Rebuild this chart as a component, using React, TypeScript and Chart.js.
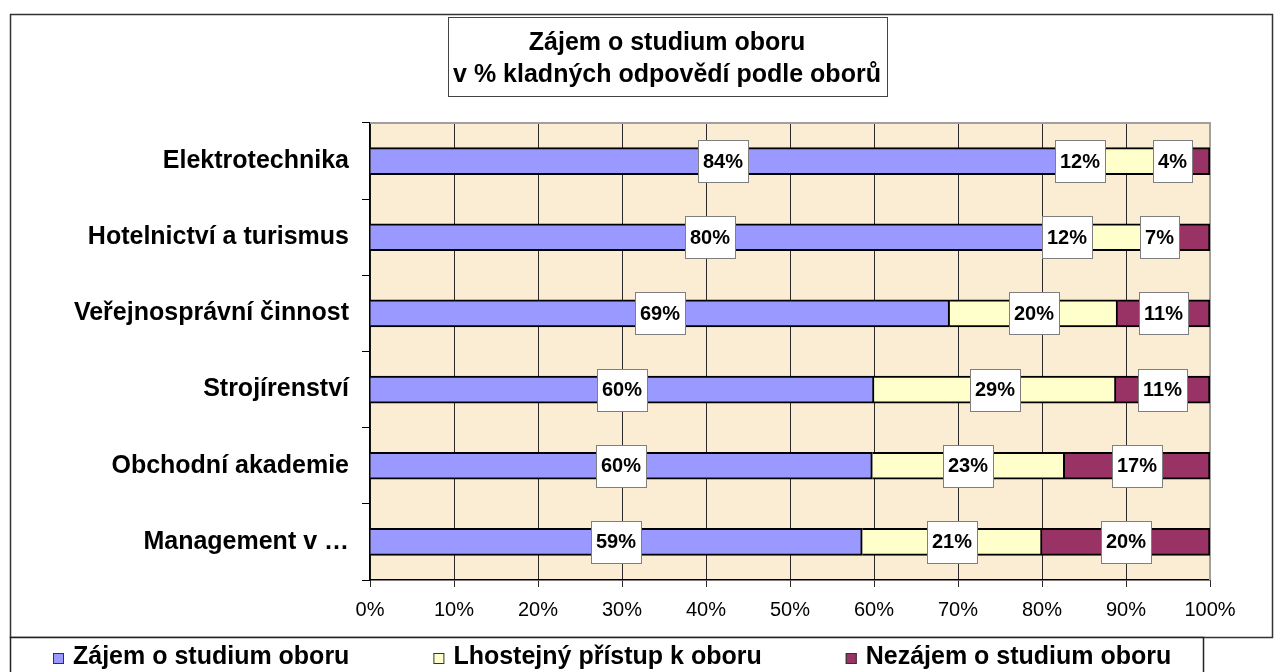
import { useEffect, useRef } from 'react';
import { Chart, registerables } from 'chart.js';

Chart.register(...registerables);

const FONT = '"Liberation Sans", Arial, Helvetica, sans-serif';

// ---- data ----
const categories = [
  'Elektrotechnika',
  'Hotelnictví a turismus',
  'Veřejnosprávní činnost',
  'Strojírenství',
  'Obchodní akademie',
  'Management v …',
];
const seriesNames = ['Zájem o studium oboru', 'Lhostejný přístup k oboru', 'Nezájem o studium oboru'];
const seriesColors = ['#9999FF', '#FFFFCC', '#993366'];
// segment shares (bar lengths, %)
const zajem = [83.9, 80.8, 69.0, 60.0, 59.8, 58.6];
const lhostejny = [14.0, 15.5, 20.0, 28.8, 22.9, 21.4];
const nezajem = [2.1, 3.7, 11.0, 11.2, 17.3, 20.0];
// printed data labels (%)
const zajemLabels = [84, 80, 69, 60, 60, 59];
const lhostejnyLabels = [12, 12, 20, 29, 23, 21];
const nezajemLabels = [4, 7, 11, 11, 17, 20];
const xMin = 0;
const xMax = 100;
const xStep = 10;
const titleLines = ['Zájem o studium oboru', 'v % kladných odpovědí podle oborů'];

const labelSets = [zajemLabels, lhostejnyLabels, nezajemLabels];

const framePlugin = {
  id: 'frame',
  beforeDraw(chart: any) {
    const { ctx, chartArea: a } = chart;
    ctx.save();
    ctx.fillStyle = '#ffffff';
    ctx.fillRect(0, 0, chart.width, chart.height);
    // plot background
    ctx.fillStyle = '#FBECD4';
    ctx.fillRect(a.left, a.top, a.right - a.left, a.bottom - a.top);
    // outer frame
    ctx.strokeStyle = '#333333';
    ctx.lineWidth = 1.5;
    ctx.strokeRect(10.5, 14.5, 1262, 623);
    // title box
    ctx.fillStyle = '#ffffff';
    ctx.fillRect(448, 17, 439, 79);
    ctx.strokeStyle = '#444444';
    ctx.lineWidth = 1;
    ctx.strokeRect(448.5, 17.5, 439, 79);
    ctx.fillStyle = '#000000';
    ctx.font = `bold 25px ${FONT}`;
    ctx.textAlign = 'center';
    ctx.textBaseline = 'middle';
    ctx.fillText(titleLines[0], 667, 43);
    ctx.fillText(titleLines[1], 667, 75);
    // legend box
    ctx.fillStyle = '#ffffff';
    ctx.fillRect(10, 637, 1193, 40);
    ctx.strokeStyle = '#222222';
    ctx.lineWidth = 1.5;
    ctx.strokeRect(10.5, 637.5, 1193, 40);
    ctx.font = `bold 25px ${FONT}`;
    ctx.textAlign = 'left';
    let x = 53;
    chart.data.datasets.forEach((ds: any) => {
      ctx.fillStyle = ds.backgroundColor;
      ctx.fillRect(x, 653, 11, 11);
      ctx.strokeStyle = '#333333';
      ctx.lineWidth = 1;
      ctx.strokeRect(x + 0.5, 653.5, 10, 10);
      ctx.fillStyle = '#000000';
      ctx.fillText(ds.label, x + 20, 657);
      x += 20 + ctx.measureText(ds.label).width + 84;
    });
    ctx.restore();
  },
  beforeDatasetsDraw(chart: any) {
    const { ctx, chartArea: a } = chart;
    ctx.save();
    ctx.strokeStyle = '#A0A0A0';
    ctx.lineWidth = 2;
    ctx.beginPath();
    ctx.moveTo(a.left, a.top);
    ctx.lineTo(a.right, a.top);
    ctx.lineTo(a.right, a.bottom);
    ctx.stroke();
    ctx.restore();
  },
};

const boxLabelPlugin = {
  id: 'boxLabels',
  afterDatasetsDraw(chart: any) {
    const ctx = chart.ctx;
    ctx.save();
    ctx.font = `bold 20px ${FONT}`;
    const n = chart.data.labels.length;
    const nd = chart.data.datasets.length;
    for (let i = 0; i < n; i++) {
      const boxes: any[] = [];
      for (let d = 0; d < nd; d++) {
        const el = chart.getDatasetMeta(d).data[i];
        const p = el.getProps(['x', 'base', 'y'], true);
        const text = labelSets[d][i] + '%';
        const w = ctx.measureText(text).width + 10;
        const left = Math.min(p.x, p.base);
        const right = Math.max(p.x, p.base);
        let cx = (left + right) / 2;
        if (w > right - left) cx = left - w / 2;
        boxes.push({ cx, w, y: p.y, text });
      }
      for (let d = nd - 2; d >= 0; d--) {
        const next = boxes[d + 1];
        const maxRight = next.cx - next.w / 2 - 48;
        if (boxes[d].cx + boxes[d].w / 2 > maxRight) boxes[d].cx = maxRight - boxes[d].w / 2;
      }
      boxes.forEach((b) => {
        const bx = Math.round(b.cx - b.w / 2);
        const by = Math.round(b.y - 21);
        const bw = Math.round(b.w);
        ctx.fillStyle = '#ffffff';
        ctx.fillRect(bx, by, bw, 42);
        ctx.strokeStyle = '#7F7F7F';
        ctx.lineWidth = 1;
        ctx.strokeRect(bx + 0.5, by + 0.5, bw, 42);
        ctx.fillStyle = '#000000';
        ctx.textAlign = 'center';
        ctx.textBaseline = 'middle';
        ctx.fillText(b.text, bx + bw / 2, b.y + 1);
      });
    }
    ctx.restore();
  },
};

export default function App() {
  const ref = useRef<HTMLCanvasElement | null>(null);
  useEffect(() => {
    if (!ref.current) return;
    Chart.defaults.font.family = FONT;
    const values = [zajem, lhostejny, nezajem];
    const chart = new Chart(ref.current, {
      type: 'bar',
      data: {
        labels: categories,
        datasets: values.map((v, k) => ({
          label: seriesNames[k],
          data: v,
          backgroundColor: seriesColors[k],
          borderColor: '#000000',
          borderWidth: 2,
          barThickness: 27,
        })),
      },
      options: {
        indexAxis: 'y',
        responsive: false,
        animation: false,
        devicePixelRatio: 1,
        layout: { padding: { top: 123, right: 71, left: 0, bottom: 0 } },
        plugins: {
          legend: { display: false },
          title: { display: false },
          tooltip: { enabled: false },
        },
        scales: {
          x: {
            stacked: true,
            min: xMin,
            max: xMax,
            ticks: {
              stepSize: xStep,
              color: '#000000',
              font: { size: 20, family: FONT },
              padding: 11,
              callback: (v: any) => v + '%',
            },
            grid: { color: '#2A2A2A', lineWidth: 1, tickLength: 7 },
            border: { color: '#000000', width: 1.5 },
            afterFit: (s: any) => {
              s.height = 92;
            },
          },
          y: {
            stacked: true,
            ticks: {
              color: '#000000',
              font: { size: 25, weight: 'bold', family: FONT },
              padding: 13,
            },
            grid: { drawOnChartArea: false, drawTicks: true, tickLength: 8, color: '#000000', offset: true },
            border: { color: '#000000', width: 1.5 },
            afterFit: (s: any) => {
              s.width = 370;
            },
          },
        },
      },
      plugins: [framePlugin, boxLabelPlugin],
    } as any);
    return () => chart.destroy();
  }, []);
  return (
    <div style={{ position: 'absolute', left: 0, top: 0, width: 1281, height: 672 }}>
      <canvas ref={ref} width={1281} height={672} style={{ display: 'block' }} />
    </div>
  );
}
